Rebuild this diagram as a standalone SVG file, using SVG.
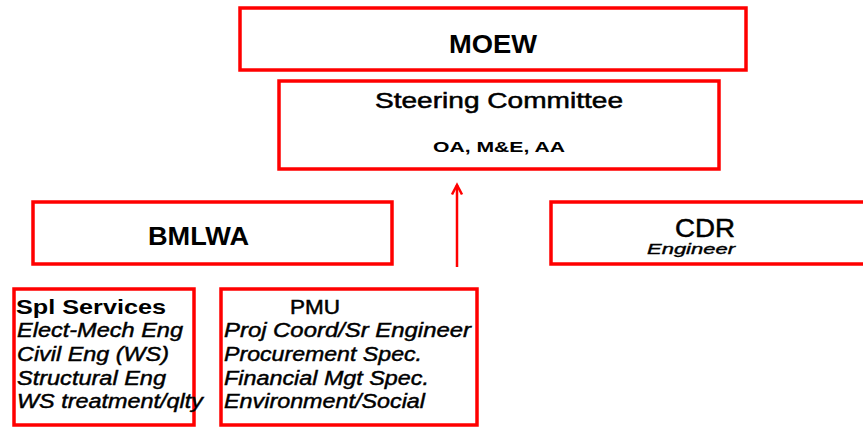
<svg xmlns="http://www.w3.org/2000/svg" width="863" height="428" viewBox="0 0 863 428">
<style>
.box{fill:#fff;stroke:#ff0000;stroke-width:3.5}
text{font-family:"Liberation Sans",Arial,sans-serif;fill:#000}
.b{font-weight:bold}
.i{font-style:italic;stroke:#000;stroke-width:0.4}
.it{font-style:italic;font-size:20px;stroke:#000;stroke-width:0.45}
</style>
<defs>
<marker id="ah" markerWidth="14" markerHeight="14" refX="11" refY="7" orient="auto" markerUnits="userSpaceOnUse" viewBox="0 0 14 14">
<path d="M1.5,2 L11,7 L1.5,12" fill="none" stroke="#ff0000" stroke-width="2.5"/>
</marker>
</defs>
<rect width="863" height="428" fill="#fff"/>
<g id="connectors">
<line x1="457" y1="267" x2="457" y2="185" stroke="#ff0000" stroke-width="2.5" marker-end="url(#ah)"/>
</g>
<g id="moew">
<rect class="box" x="240" y="8" width="506" height="62"/>
<text class="b" x="449" y="53" font-size="26" textLength="88" lengthAdjust="spacingAndGlyphs">MOEW</text>
</g>
<g id="steering">
<rect class="box" x="279" y="81" width="440" height="88"/>
<text x="375" y="108" font-size="22" textLength="248" lengthAdjust="spacingAndGlyphs" stroke="#000" stroke-width="0.5">Steering Committee</text>
<text class="b" x="433" y="152" font-size="15" textLength="132" lengthAdjust="spacingAndGlyphs">OA, M&amp;E, AA</text>
</g>
<g id="bmlwa">
<rect class="box" x="33" y="202" width="359" height="62"/>
<text class="b" x="148" y="245" font-size="25" textLength="101" lengthAdjust="spacingAndGlyphs">BMLWA</text>
</g>
<g id="cdr">
<rect class="box" x="551" y="202" width="330" height="62"/>
<text x="675" y="237" font-size="25" textLength="60" lengthAdjust="spacingAndGlyphs" stroke="#000" stroke-width="0.5">CDR</text>
<text class="i" x="647" y="254" font-size="15" textLength="88" lengthAdjust="spacingAndGlyphs">Engineer</text>
</g>
<g id="spl">
<rect class="box" x="14" y="289" width="180" height="136"/>
<text class="b" x="16" y="314" font-size="21" textLength="150" lengthAdjust="spacingAndGlyphs">Spl Services</text>
<text class="it" x="17" y="337" textLength="166" lengthAdjust="spacingAndGlyphs">Elect-Mech Eng</text>
<text class="it" x="17" y="361" textLength="152" lengthAdjust="spacingAndGlyphs">Civil Eng (WS)</text>
<text class="it" x="17" y="385" textLength="149" lengthAdjust="spacingAndGlyphs">Structural Eng</text>
<text class="it" x="17" y="408" textLength="186" lengthAdjust="spacingAndGlyphs">WS treatment/qlty</text>
</g>
<g id="pmu">
<rect class="box" x="221" y="289" width="256" height="136"/>
<text x="290" y="314" font-size="20" textLength="50" lengthAdjust="spacingAndGlyphs" stroke="#000" stroke-width="0.5">PMU</text>
<text class="it" x="224" y="337" textLength="247" lengthAdjust="spacingAndGlyphs">Proj Coord/Sr Engineer</text>
<text class="it" x="224" y="361" textLength="198" lengthAdjust="spacingAndGlyphs">Procurement Spec.</text>
<text class="it" x="224" y="385" textLength="205" lengthAdjust="spacingAndGlyphs">Financial Mgt Spec.</text>
<text class="it" x="224" y="408" textLength="201" lengthAdjust="spacingAndGlyphs">Environment/Social</text>
</g>
</svg>
